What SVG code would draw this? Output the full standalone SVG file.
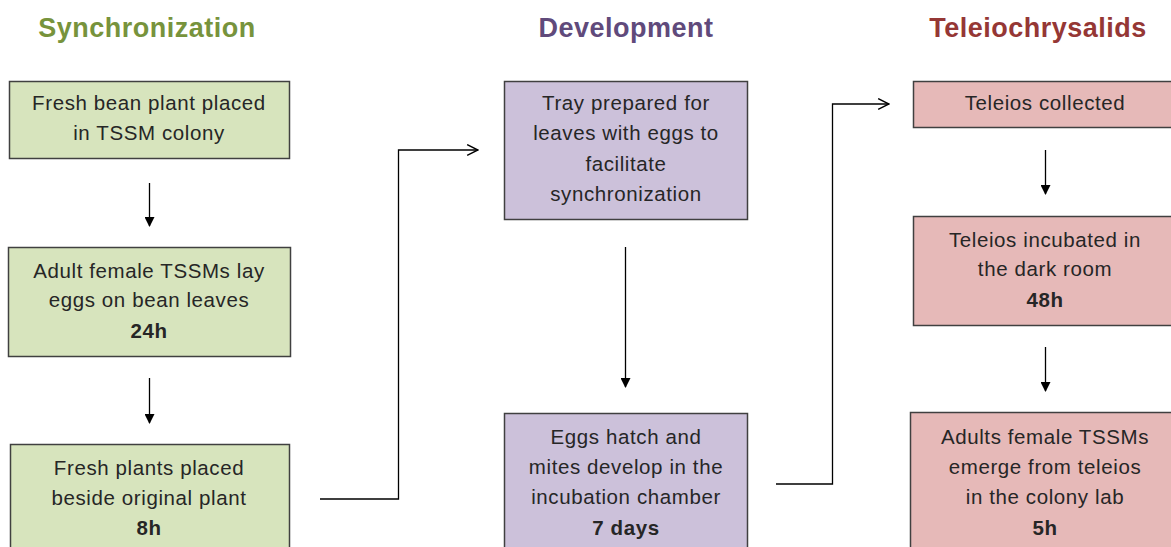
<svg xmlns="http://www.w3.org/2000/svg" width="1171" height="547" viewBox="0 0 1171 547">
<style>
.g{fill:#D7E4BD;stroke:#404040;stroke-width:1.5}
.p{fill:#CCC1DA;stroke:#404040;stroke-width:1.5}
.r{fill:#E6B9B8;stroke:#404040;stroke-width:1.5}
.t{font-family:"Liberation Sans",Arial,sans-serif;font-size:20.5px;letter-spacing:0.6px;fill:#262626;text-anchor:middle}
.b{font-weight:bold}
.h{font-family:"Liberation Sans",Arial,sans-serif;font-size:27px;letter-spacing:0.5px;font-weight:bold;text-anchor:middle}
.c{fill:none;stroke:#000;stroke-width:1.3}
</style>
<defs>
<marker id="fa" viewBox="0 0 10 10" refX="9" refY="5" markerWidth="10" markerHeight="10" markerUnits="userSpaceOnUse" orient="auto"><path d="M0,0 L10,5 L0,10 Z" fill="#000"/></marker>
<marker id="oa" viewBox="0 0 12 12" refX="11" refY="6" markerWidth="13" markerHeight="13" markerUnits="userSpaceOnUse" orient="auto"><path d="M1,1 L11,6 L1,11" fill="none" stroke="#000" stroke-width="1.3"/></marker>
</defs>
<rect width="1171" height="547" fill="#fff"/>
<g id="headers">
<text class="h" x="147" y="37" fill="#77933C">Synchronization</text>
<text class="h" x="626" y="37" fill="#604A7B">Development</text>
<text class="h" x="1038" y="37" fill="#953735">Teleiochrysalids</text>
</g>
<g id="connectors">
<line class="c" x1="149.5" y1="183" x2="149.5" y2="226" marker-end="url(#fa)"/>
<line class="c" x1="149.5" y1="378" x2="149.5" y2="423" marker-end="url(#fa)"/>
<polyline class="c" points="320,499 398.5,499 398.5,150 478,150" marker-end="url(#oa)"/>
<line class="c" x1="625.5" y1="247" x2="625.5" y2="387" marker-end="url(#fa)"/>
<polyline class="c" points="776,484 832.5,484 832.5,104 889,104" marker-end="url(#oa)"/>
<line class="c" x1="1045.5" y1="150" x2="1045.5" y2="194" marker-end="url(#fa)"/>
<line class="c" x1="1045.5" y1="347" x2="1045.5" y2="391" marker-end="url(#fa)"/>
</g>
<g id="n1"><rect class="g" x="9.5" y="81.5" width="280" height="77"/>
<text class="t" x="149" y="110">Fresh bean plant placed</text><text class="t" x="149" y="140">in TSSM colony</text></g>
<g id="n2"><rect class="g" x="8.5" y="247.5" width="282" height="109"/>
<text class="t" x="149" y="278">Adult female TSSMs lay</text><text class="t" x="149" y="307">eggs on bean leaves</text><text class="t b" x="149" y="338">24h</text></g>
<g id="n3"><rect class="g" x="10.5" y="444.5" width="279" height="110"/>
<text class="t" x="149" y="475">Fresh plants placed</text><text class="t" x="149" y="505">beside original plant</text><text class="t b" x="149" y="535">8h</text></g>
<g id="n4"><rect class="p" x="504.5" y="81.5" width="243" height="138"/>
<text class="t" x="626" y="110">Tray prepared for</text><text class="t" x="626" y="140">leaves with eggs to</text><text class="t" x="626" y="171">facilitate</text><text class="t" x="626" y="201">synchronization</text></g>
<g id="n5"><rect class="p" x="504.5" y="413.5" width="243" height="140"/>
<text class="t" x="626" y="444">Eggs hatch and</text><text class="t" x="626" y="474">mites develop in the</text><text class="t" x="626" y="504">incubation chamber</text><text class="t b" x="626" y="535">7 days</text></g>
<g id="n6"><rect class="r" x="913.5" y="81.5" width="264" height="46"/>
<text class="t" x="1045" y="110">Teleios collected</text></g>
<g id="n7"><rect class="r" x="913.5" y="216.5" width="264" height="109"/>
<text class="t" x="1045" y="247">Teleios incubated in</text><text class="t" x="1045" y="276">the dark room</text><text class="t b" x="1045" y="307">48h</text></g>
<g id="n8"><rect class="r" x="910.5" y="412.5" width="268" height="140"/>
<text class="t" x="1045" y="444">Adults female TSSMs</text><text class="t" x="1045" y="474">emerge from teleios</text><text class="t" x="1045" y="504">in the colony lab</text><text class="t b" x="1045" y="535">5h</text></g>
</svg>
